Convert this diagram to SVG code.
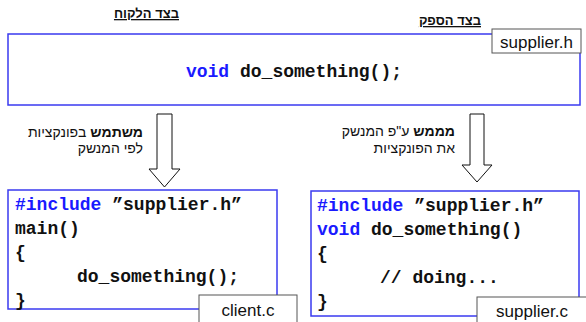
<svg xmlns="http://www.w3.org/2000/svg" width="586" height="322" viewBox="0 0 586 322">
<style>
.code{font-family:"Liberation Mono","Courier New",monospace;font-weight:bold;font-size:18px;fill:#111}
.kw{fill:#1a1aff}
.box{fill:#fff;stroke:#3a3af0;stroke-width:1.5}
.lbl{fill:#fff;stroke:#555;stroke-width:1}
.lt{font-family:"Liberation Sans",Arial,sans-serif;font-size:17px;fill:#111;text-anchor:middle}
.heb{font-family:"Liberation Sans",Arial,"DejaVu Sans",sans-serif;font-size:14px;fill:#111;direction:rtl;text-anchor:start}
.hdr{font-family:"Liberation Sans",Arial,"DejaVu Sans",sans-serif;font-size:13px;font-weight:bold;fill:#111;direction:rtl;text-anchor:start;text-decoration:underline}
.arr{fill:#fff;stroke:#111;stroke-width:1}
</style>
<rect width="586" height="322" fill="#fff"/>
<g id="headers">
<text class="hdr" x="179" y="18">בצד הלקוח</text>
<text class="hdr" x="481" y="25">בצד הספק</text>
</g>
<g id="supplier_h">
<rect class="box" x="8" y="34" width="572" height="71"/>
<text class="code" x="294" y="77" text-anchor="middle"><tspan class="kw">void</tspan> do_something();</text>
<rect class="lbl" x="492" y="29" width="89" height="24"/>
<text class="lt" x="536.5" y="48">supplier.h</text>
</g>
<g id="connectors">
<polygon class="arr" points="157,114 172,114 172,169 180,169 164.5,187 149,169 157,169"/>
<polygon class="arr" points="470,114 484,114 484,165 492,165 477,182 462,165 470,165"/>
<text class="heb" x="143" y="137"><tspan font-weight="bold">משתמש</tspan> בפונקציות</text>
<text class="heb" x="143" y="153">לפי המנשק</text>
<text class="heb" x="455" y="136"><tspan font-weight="bold">מממש</tspan> ע"פ המנשק</text>
<text class="heb" x="455" y="153">את הפונקציות</text>
</g>
<g id="client_c">
<rect class="box" x="8" y="190" width="269" height="119"/>
<text class="code" x="15" y="210"><tspan class="kw">#include</tspan> ”supplier.h”</text>
<text class="code" x="15" y="234">main()</text>
<text class="code" x="15" y="258">{</text>
<text class="code" x="77" y="282">do_something();</text>
<text class="code" x="15" y="306">}</text>
<rect class="lbl" x="199" y="295" width="98" height="28"/>
<text class="lt" x="248" y="316">client.c</text>
</g>
<g id="supplier_c">
<rect class="box" x="311" y="191" width="268" height="125"/>
<text class="code" x="317" y="211"><tspan class="kw">#include</tspan> ”supplier.h”</text>
<text class="code" x="317" y="235"><tspan class="kw">void</tspan> do_something()</text>
<text class="code" x="317" y="259">{</text>
<text class="code" x="380" y="283">// doing...</text>
<text class="code" x="317" y="307">}</text>
<rect class="lbl" x="477" y="297" width="115" height="28"/>
<text class="lt" x="532" y="317">supplier.c</text>
</g>
</svg>
